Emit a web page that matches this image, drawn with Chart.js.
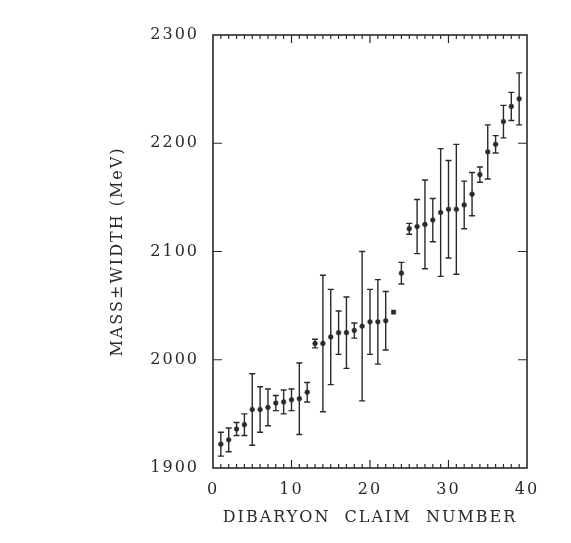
<!DOCTYPE html>
<html>
<head>
<meta charset="utf-8">
<script src="https://cdn.jsdelivr.net/npm/chart.js@4/dist/chart.umd.min.js"></script>
<style>
  html, body { margin: 0; padding: 0; background: #fff; }
  #wrap { width: 571px; height: 543px; }
</style>
</head>
<body>
<div id="wrap"><canvas id="chart"></canvas></div>
<script>
// dibaryon claims: mass and width
const claimNo = [1, 2, 3, 4, 5, 6, 7, 8, 9, 10, 11, 12, 13, 14, 15, 16, 17, 18, 19, 20,
                 21, 22, 23, 24, 25, 26, 27, 28, 29, 30, 31, 32, 33, 34, 35, 36, 37, 38, 39];
const massMeV = [1922, 1926, 1936, 1940, 1954, 1954, 1956, 1960, 1961, 1963,
                 1964, 1970, 2015, 2015, 2021, 2025, 2025, 2027, 2031, 2035,
                 2035, 2036, 2044, 2080, 2121, 2123, 2125, 2129, 2136, 2139,
                 2139, 2143, 2153, 2171, 2192, 2199, 2220, 2234, 2241];
const widthMeV = [11, 11, 6, 10, 33, 21, 17, 7, 11, 10,
                  33, 9, 4, 63, 44, 20, 33, 7, 69, 30,
                  39, 27, 0, 10, 5, 25, 41, 20, 59, 45,
                  60, 22, 20, 7, 25, 8, 15, 13, 24];
const xTicks = [0, 10, 20, 30, 40];
const yTicks = [1900, 2000, 2100, 2200, 2300];

const INK = '#2a2a2a';
const FONT = { family: 'DejaVu Serif', size: 16 };

// error bars, drawn under the markers
const errorBars = {
  id: 'errorBars',
  beforeDatasetsDraw(chart) {
    const { ctx, scales: { x, y } } = chart;
    ctx.save();
    ctx.strokeStyle = INK;
    ctx.lineWidth = 1.4;
    claimNo.forEach((c, i) => {
      const w = widthMeV[i];
      if (!w) return;
      const px = x.getPixelForValue(c);
      const top = y.getPixelForValue(massMeV[i] + w);
      const bot = y.getPixelForValue(massMeV[i] - w);
      ctx.beginPath();
      ctx.moveTo(px, top); ctx.lineTo(px, bot);
      ctx.moveTo(px - 3, top); ctx.lineTo(px + 3, top);
      ctx.moveTo(px - 3, bot); ctx.lineTo(px + 3, bot);
      ctx.stroke();
    });
    ctx.restore();
  }
};

// frame with inward ticks on all four sides
const frame = {
  id: 'frame',
  beforeLayout(chart) { chart.ctx.letterSpacing = '2px'; },
  beforeDraw(chart) { chart.ctx.letterSpacing = '2px'; },
  afterDraw(chart) {
    const { ctx, chartArea: a, scales: { x, y } } = chart;
    ctx.save();
    ctx.strokeStyle = INK;
    ctx.lineWidth = 1.6;
    ctx.strokeRect(a.left, a.top, a.right - a.left, a.bottom - a.top);
    ctx.lineWidth = 1.2;
    ctx.beginPath();
    for (let v = x.min + 1; v < x.max; v++) {
      const px = x.getPixelForValue(v);
      const len = v % 10 === 0 ? 8 : 4;
      ctx.moveTo(px, a.bottom); ctx.lineTo(px, a.bottom - len);
      ctx.moveTo(px, a.top); ctx.lineTo(px, a.top + len);
    }
    yTicks.slice(1, -1).forEach(v => {
      const py = y.getPixelForValue(v);
      ctx.moveTo(a.left, py); ctx.lineTo(a.left + 9, py);
      ctx.moveTo(a.right, py); ctx.lineTo(a.right - 9, py);
    });
    ctx.stroke();
    ctx.restore();
  }
};

new Chart(document.getElementById('chart'), {
  type: 'scatter',
  data: {
    datasets: [{
      data: claimNo.map((c, i) => ({ x: c, y: massMeV[i] })),
      pointStyle: ctx => (ctx.raw && widthMeV[ctx.dataIndex] === 0 ? 'rect' : 'circle'),
      pointRadius: ctx => (ctx.raw && widthMeV[ctx.dataIndex] === 0 ? 3 : 2.4),
      pointBackgroundColor: INK,
      pointBorderColor: INK,
      pointBorderWidth: 0.5
    }]
  },
  options: {
    responsive: true,
    maintainAspectRatio: false,
    animation: false,
    layout: { padding: { left: 100, right: 44, top: 35, bottom: 12 } },
    plugins: { legend: { display: false }, tooltip: { enabled: false } },
    scales: {
      x: {
        type: 'linear',
        min: 0, max: 40,
        afterBuildTicks: s => { s.ticks = xTicks.map(v => ({ value: v })); },
        afterFit: s => { s.height = 63; },
        grid: { display: false, drawTicks: false },
        border: { display: false },
        ticks: { color: INK, font: FONT, padding: 12, maxRotation: 0, callback: v => String(v) },
        title: { display: true, text: 'DIBARYON  CLAIM  NUMBER', color: INK, font: FONT, padding: { top: 4 } }
      },
      y: {
        min: 1900, max: 2300,
        afterBuildTicks: s => { s.ticks = yTicks.map(v => ({ value: v })); },
        afterFit: s => { s.width = 113; },
        grid: { display: false, drawTicks: false },
        border: { display: false },
        ticks: { color: INK, font: FONT, padding: 14, callback: v => String(v) },
        title: { display: true, text: 'MASS±WIDTH (MeV)', color: INK, font: FONT, padding: { top: 8, bottom: 0 } }
      }
    }
  },
  plugins: [errorBars, frame]
});
</script>
</body>
</html>
